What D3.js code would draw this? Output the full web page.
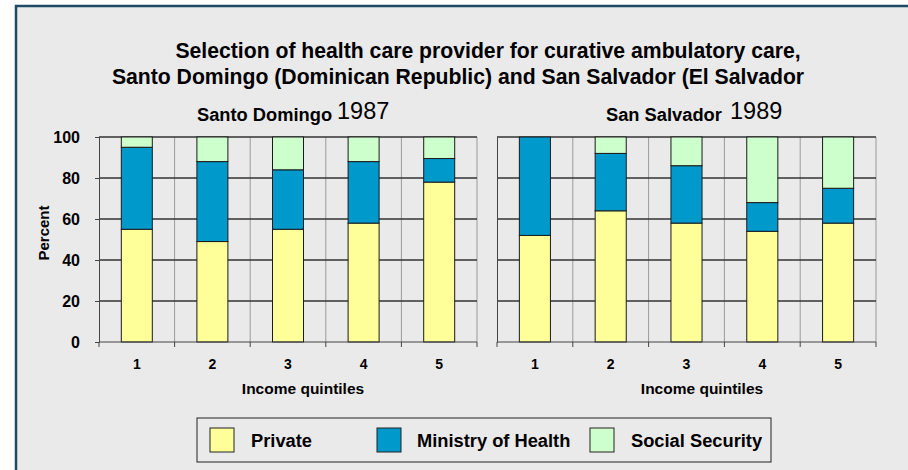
<!DOCTYPE html>
<html>
<head>
<meta charset="utf-8">
<script src="https://cdnjs.cloudflare.com/ajax/libs/d3/7.8.5/d3.min.js"></script>
<style>
  html, body { margin: 0; padding: 0; background: #ffffff; }
  svg { display: block; font-family: "Liberation Sans", Arial, sans-serif; }
</style>
</head>
<body>
<svg id="chart" width="908" height="470"></svg>
<script>
// ---- data ----
const quintiles = ["1", "2", "3", "4", "5"];
const seriesNames = ["Private", "Ministry of Health", "Social Security"];
const seriesColors = ["#FFFF99", "#0099CC", "#CCFFCC"];
const yTicks = [0, 20, 40, 60, 80, 100];

const santoDomingoPrivate = [55, 49, 55, 58, 78];
const santoDomingoMoH     = [40, 39, 29, 30, 11.5];
const santoDomingoSS      = [5, 12, 16, 12, 10.5];

const sanSalvadorPrivate = [52, 64, 58, 54, 58];
const sanSalvadorMoH     = [48, 28, 28, 14, 17];
const sanSalvadorSS      = [0, 8, 14, 32, 25];

const titleLines = [
  "Selection of health care provider for curative ambulatory care,",
  "Santo Domingo (Dominican Republic) and San Salvador (El Salvador"
];

// ---- drawing ----
const svg = d3.select("#chart");

// background + frame
svg.append("rect").attr("x", 16).attr("y", 6).attr("width", 900).attr("height", 470)
  .attr("fill", "#EAEAEA");
svg.append("line").attr("x1", 16).attr("x2", 16).attr("y1", 5).attr("y2", 470)
  .attr("stroke", "#1E4A66").attr("stroke-width", 2.5);
svg.append("line").attr("x1", 15).attr("x2", 908).attr("y1", 6).attr("y2", 6)
  .attr("stroke", "#1E4A66").attr("stroke-width", 2.5);

// title
svg.append("text").attr("x", 488).attr("y", 58).attr("text-anchor", "middle")
  .attr("font-size", 21.2).attr("font-weight", "bold").attr("fill", "#000").text(titleLines[0]);
svg.append("text").attr("x", 458).attr("y", 84).attr("text-anchor", "middle")
  .attr("font-size", 21.2).attr("font-weight", "bold").attr("fill", "#000").text(titleLines[1]);

const y = d3.scaleLinear().domain([0, 100]).range([342, 137]);

function panel(opts) {
  const { x0, x1, priv, moh, ss, name, year, nameX, yearX, xLabelX, showY } = opts;
  const g = svg.append("g");
  const x = d3.scaleBand().domain(quintiles).range([x0, x1]).paddingInner(0).paddingOuter(0);
  const bw = x.bandwidth() * 0.41;

  // vertical grid lines at band boundaries
  const bounds = quintiles.map(q => x(q)).concat([x1]);
  g.selectAll(".vg").data(bounds.slice(1)).enter().append("line")
    .attr("x1", d => d).attr("x2", d => d).attr("y1", y(100)).attr("y2", y(0))
    .attr("stroke", "#9a9a9a").attr("stroke-width", 1);

  // horizontal grid lines
  g.selectAll(".hg").data(yTicks.slice(1)).enter().append("line")
    .attr("x1", x0).attr("x2", x1).attr("y1", d => y(d)).attr("y2", d => y(d))
    .attr("stroke", "#333").attr("stroke-width", 1.6);

  // stacked bars
  const rows = quintiles.map((q, i) => ({ q, vals: [priv[i], moh[i], ss[i]] }));
  rows.forEach(r => {
    let base = 0;
    r.vals.forEach((v, si) => {
      if (v > 0) {
        g.append("rect")
          .attr("x", x(r.q) + (x.bandwidth() - bw) / 2)
          .attr("width", bw)
          .attr("y", y(base + v))
          .attr("height", y(base) - y(base + v))
          .attr("fill", seriesColors[si])
          .attr("stroke", "#1a1a1a").attr("stroke-width", 1);
      }
      base += v;
    });
  });

  // y axis
  const yAxis = d3.axisLeft(y).tickValues(yTicks).tickSize(showY ? 4 : 0).tickFormat(showY ? d3.format("d") : "");
  const ya = g.append("g").attr("transform", `translate(${x0},0)`).call(yAxis);
  ya.select(".domain").attr("stroke", "#444");
  ya.selectAll(".tick line").attr("stroke", "#444");
  ya.selectAll("text").attr("font-size", 16).attr("font-weight", "bold").attr("fill", "#000")
    .attr("font-family", "Liberation Sans, Arial, sans-serif").attr("x", -19).attr("dy", "0.36em");

  // x axis
  const xa = g.append("g").attr("transform", `translate(0,${y(0)})`);
  xa.append("line").attr("x1", x0).attr("x2", x1).attr("y1", 0).attr("y2", 0)
    .attr("stroke", "#444").attr("stroke-width", 1);
  xa.selectAll(".xt").data(bounds).enter().append("line")
    .attr("x1", d => d).attr("x2", d => d).attr("y1", 0).attr("y2", 5)
    .attr("stroke", "#444");
  xa.selectAll(".xl").data(quintiles).enter().append("text")
    .attr("x", d => x(d) + x.bandwidth() / 2).attr("y", 27)
    .attr("text-anchor", "middle").attr("font-size", 14).attr("font-weight", "bold")
    .attr("fill", "#000").text(d => d);

  svg.append("text").attr("x", xLabelX).attr("y", 394).attr("text-anchor", "middle")
    .attr("font-size", 15.5).attr("font-weight", "bold").attr("fill", "#000").text("Income quintiles");

  // subtitle
  svg.append("text").attr("x", nameX).attr("y", 121)
    .attr("font-size", 18.3).attr("font-weight", "bold").attr("fill", "#000").text(name);
  svg.append("text").attr("x", yearX).attr("y", 119)
    .attr("font-size", 23.5).attr("fill", "#000").text(year);
}

panel({ x0: 99, x1: 477, priv: santoDomingoPrivate, moh: santoDomingoMoH, ss: santoDomingoSS,
  name: "Santo Domingo", year: "1987", nameX: 197, yearX: 337, xLabelX: 303, showY: true });
panel({ x0: 497, x1: 876, priv: sanSalvadorPrivate, moh: sanSalvadorMoH, ss: sanSalvadorSS,
  name: "San Salvador", year: "1989", nameX: 606, yearX: 730, xLabelX: 702, showY: false });

// y axis title
svg.append("text").attr("transform", "translate(49,233) rotate(-90)")
  .attr("text-anchor", "middle").attr("font-size", 15).attr("font-weight", "bold")
  .attr("fill", "#000").text("Percent");

// legend
const lg = svg.append("g");
lg.append("rect").attr("x", 197).attr("y", 418).attr("width", 574).attr("height", 44)
  .attr("fill", "#EAEAEA").attr("stroke", "#222").attr("stroke-width", 1);
const legendPos = [{ sx: 210, tx: 251 }, { sx: 377, tx: 417 }, { sx: 590, tx: 631 }];
seriesNames.forEach((n, i) => {
  lg.append("rect").attr("x", legendPos[i].sx).attr("y", 428).attr("width", 24).attr("height", 24)
    .attr("fill", seriesColors[i]).attr("stroke", "#222").attr("stroke-width", 1);
  lg.append("text").attr("x", legendPos[i].tx).attr("y", 447)
    .attr("font-size", 18.3).attr("font-weight", "bold").attr("fill", "#000").text(n);
});
</script>
</body>
</html>
